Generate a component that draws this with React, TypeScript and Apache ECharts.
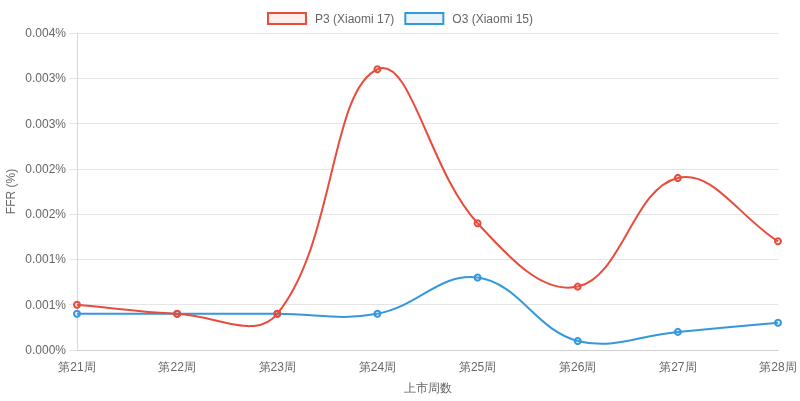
import React, { useEffect, useRef } from "react";
import * as echarts from "echarts";

const weeks = ["第21周", "第22周", "第23周", "第24周", "第25周", "第26周", "第27周", "第28周"];
const p3Values = [0.0005, 0.0004, 0.0004, 0.0031, 0.0014, 0.0007, 0.0019, 0.0012];
const o3Values = [0.0004, 0.0004, 0.0004, 0.0004, 0.0008, 0.0001, 0.0002, 0.0003];
const seriesNames = ["P3 (Xiaomi 17)", "O3 (Xiaomi 15)"];

const RED = "#e74c3c";
const BLUE = "#3498db";
const RED_FILL = "rgba(231,76,60,0.1)";
const BLUE_FILL = "rgba(52,152,219,0.1)";
const FONT = "'Liberation Sans', Arial, Helvetica, sans-serif";
const TENSION = 0.4;

type Pt = { x: number; y: number };

function controlPoints(prev: Pt, cur: Pt, next: Pt, t: number) {
  const d01 = Math.hypot(cur.x - prev.x, cur.y - prev.y);
  const d12 = Math.hypot(next.x - cur.x, next.y - cur.y);
  let s01 = d01 / (d01 + d12);
  let s12 = d12 / (d01 + d12);
  if (isNaN(s01)) s01 = 0;
  if (isNaN(s12)) s12 = 0;
  const fa = t * s01;
  const fb = t * s12;
  return {
    prev: { x: cur.x - fa * (next.x - prev.x), y: cur.y - fa * (next.y - prev.y) },
    next: { x: cur.x + fb * (next.x - prev.x), y: cur.y + fb * (next.y - prev.y) },
  };
}

function makeCurveSeries(values: number[], color: string, z: number) {
  return {
    type: "custom",
    name: "curve-" + color,
    z,
    silent: true,
    data: values.map((v, i) => [i, v]),
    encode: { x: 0, y: 1 },
    renderItem: (params: any, api: any) => {
      const i = params.dataIndex;
      if (i >= values.length - 1) return null;
      const cs = params.coordSys;
      const pts: Pt[] = values.map((v, k) => {
        const c = api.coord([k, v]);
        return { x: c[0], y: c[1] };
      });
      const cap = (p: Pt, base: Pt) => {
        const inArea =
          base.x >= cs.x && base.x <= cs.x + cs.width && base.y >= cs.y && base.y <= cs.y + cs.height;
        if (!inArea) return p;
        return {
          x: Math.max(Math.min(p.x, cs.x + cs.width), cs.x),
          y: Math.max(Math.min(p.y, cs.y + cs.height), cs.y),
        };
      };
      const n = pts.length;
      const cpA = controlPoints(pts[Math.max(i - 1, 0)], pts[i], pts[Math.min(i + 1, n - 1)], TENSION);
      const cpB = controlPoints(pts[i], pts[i + 1], pts[Math.min(i + 2, n - 1)], TENSION);
      const c1 = cap(cpA.next, pts[i]);
      const c2 = cap(cpB.prev, pts[i + 1]);
      return {
        type: "bezierCurve",
        shape: {
          x1: pts[i].x,
          y1: pts[i].y,
          x2: pts[i + 1].x,
          y2: pts[i + 1].y,
          cpx1: c1.x,
          cpy1: c1.y,
          cpx2: c2.x,
          cpy2: c2.y,
        },
        style: { stroke: color, lineWidth: 2, fill: "none" },
      };
    },
  };
}

function makePointSeries(name: string, values: number[], color: string, fill: string, z: number) {
  return {
    name,
    type: "line",
    data: values,
    symbol: "circle",
    symbolSize: 6,
    showSymbol: true,
    lineStyle: { width: 0, opacity: 0, color },
    itemStyle: { color: fill, borderColor: color, borderWidth: 2 },
    z,
  };
}

export default function App() {
  const ref = useRef<HTMLDivElement>(null);
  useEffect(() => {
    if (!ref.current) return;
    const chart = echarts.init(ref.current, null, { renderer: "svg" });
    chart.setOption({
      animation: false,
      textStyle: { fontFamily: FONT },
      legend: {
        top: 7,
        left: "center",
        icon: "rect",
        itemWidth: 38,
        itemHeight: 11,
        itemGap: 10,
        textStyle: { color: "#666", fontSize: 12, fontFamily: FONT, padding: [0, 0, 0, 4] },
        data: [
          { name: seriesNames[0], itemStyle: { color: RED_FILL, borderColor: RED, borderWidth: 2 } },
          { name: seriesNames[1], itemStyle: { color: BLUE_FILL, borderColor: BLUE, borderWidth: 2 } },
        ],
      },
      grid: { left: 77, right: 22, top: 33, bottom: 51, containLabel: false, outerBoundsMode: "none" },
      xAxis: {
        type: "category",
        data: weeks,
        boundaryGap: false,
        name: "上市周数",
        nameLocation: "middle",
        nameGap: 32,
        nameMoveOverlap: false,
        nameTextStyle: { color: "#666", fontSize: 12, fontFamily: FONT },
        axisLine: { show: true, lineStyle: { color: "#d0d0d0", width: 1 } },
        axisTick: { show: false },
        splitLine: { show: false },
        axisLabel: { color: "#666", fontSize: 12, fontFamily: FONT, margin: 11 },
      },
      yAxis: {
        type: "value",
        min: 0,
        max: 0.0035,
        interval: 0.0005,
        name: "FFR (%)",
        nameLocation: "middle",
        nameGap: 60,
        nameMoveOverlap: false,
        nameRotate: 90,
        nameTextStyle: { color: "#666", fontSize: 12, fontFamily: FONT },
        axisLine: { show: true, lineStyle: { color: "#d9d9d9", width: 1 } },
        axisTick: { show: true, length: 8, lineStyle: { color: "#e5e5e5" } },
        splitLine: { show: true, lineStyle: { color: "#e5e5e5", width: 1 } },
        axisLabel: {
          color: "#666",
          fontSize: 12,
          fontFamily: FONT,
          margin: 11,
          formatter: (v: number) => v.toFixed(3) + "%",
        },
      },
      series: [
        makeCurveSeries(o3Values, BLUE, 2),
        makePointSeries(seriesNames[1], o3Values, BLUE, BLUE_FILL, 3),
        makeCurveSeries(p3Values, RED, 4),
        makePointSeries(seriesNames[0], p3Values, RED, RED_FILL, 5),
      ],
    });
    return () => chart.dispose();
  }, []);
  return (
    <div
      ref={ref}
      style={{ position: "fixed", left: 0, top: 0, width: 800, height: 401 }}
    />
  );
}
